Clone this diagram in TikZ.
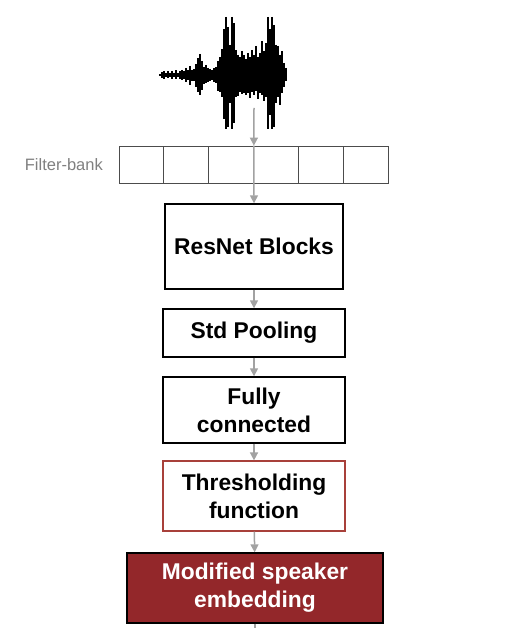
\documentclass[tikz,border=0pt]{standalone}
\usepackage{fontspec}
\setmainfont{Liberation Sans}
\usetikzlibrary{arrows.meta,positioning}
\definecolor{embred}{HTML}{93272A}
\definecolor{thrred}{HTML}{A8403A}
\definecolor{arrgray}{HTML}{A2A2A2}
\tikzset{%
  >={Triangle[length=8pt,width=8pt]},
  blk/.style={draw,rectangle,line width=1.4pt,align=center,
    font=\fontsize{22.8}{28}\selectfont\bfseries},
  cell/.style={draw=black!70,rectangle,line width=.8pt,minimum width=44.8pt,
    minimum height=37pt,inner sep=0pt},
  arr/.style={draw=arrgray,line width=1.5pt,->},
  wave/.style={line width=2.3pt,line cap=butt}
}
\begin{document}
\begin{tikzpicture}[x=1pt,y=-1pt]
	\useasboundingbox (0,0) rectangle (512,628);
	% waveform
	\foreach \px/\up/\dn in {160/1/1,162/3/3,164/4/4,166/2/2,168/3.5/3.5,170/2/2,
		172/4/4,174/2/2,176/4.5/4.5,178/2/2,180/4/4,182/5/5,184/4/4,186/7/7,188/5/5,
		190/9/10,192/5/6,194/6/6,196/11/12,198/17/17,200/21/20,202/14/15,204/8/9,
		206/10/8,208/7/7,210/6/6,212/5/5,214/7/7,216/8/8,218/14/16,220/18/17,
		222/26/22,224/46/44,226/58/54,228/48/52,230/30/28,232/58/54,234/52/48,
		236/25/22,238/20/21,240/18/17,242/24/19,244/20/18,246/16/20,248/22/18,
		250/18/23,252/25/17,254/20/20,256/29/16,258/18/24,260/22/18,262/34/20,
		264/24/26,266/32/22,268/58/54,270/46/40,272/58/54,274/50/52,276/30/28,
		278/29/22,280/20/30,282/24/18,284/12/12,286/7/6}
		\draw[wave] (\px,75-\up) -- (\px,75+\dn);
	\coordinate (wv) at (254,108);
	% filter-bank cells
	\foreach \i in {1,...,6}
		\node[cell] (c\i) at ({119+44.83*(\i-0.5)},164.5) {};
	\node[anchor=east,text=gray,font=\fontsize{16.5}{19}\selectfont,inner sep=0pt]
		(fblab) at (103,164.5) {Filter-bank};
	% blocks
	\node[blk,minimum width=178pt,minimum height=85pt] (res) at (254,246.5) {ResNet Blocks};
	\node[blk,minimum width=182pt,minimum height=48pt] (pool) at (254,333) {Std Pooling};
	\node[blk,minimum width=182pt,minimum height=66pt] (fc) at (254,410) {Fully\\connected};
	\node[blk,draw=thrred,line width=1.2pt,minimum width=182pt,minimum height=70pt]
		(thr) at (254,496) {Thresholding\\function};
	\node[blk,fill=embred,text=white,minimum width=256pt,minimum height=70pt]
		(emb) at (255,588) {Modified speaker\\embedding};
	\coordinate (out) at (255,628);
	% connectors
	\draw[arr] (wv) -- (c3.north east);
	\draw[arr] (c3.north east) -- (res.north);
	\draw[arr] (res) -- (pool);
	\draw[arr] (pool) -- (fc);
	\draw[arr] (fc) -- (thr);
	\draw[arr] (thr) -- (emb);
	\draw[draw=arrgray,line width=1.5pt] (emb.south) -- (out);
\end{tikzpicture}
\end{document}
